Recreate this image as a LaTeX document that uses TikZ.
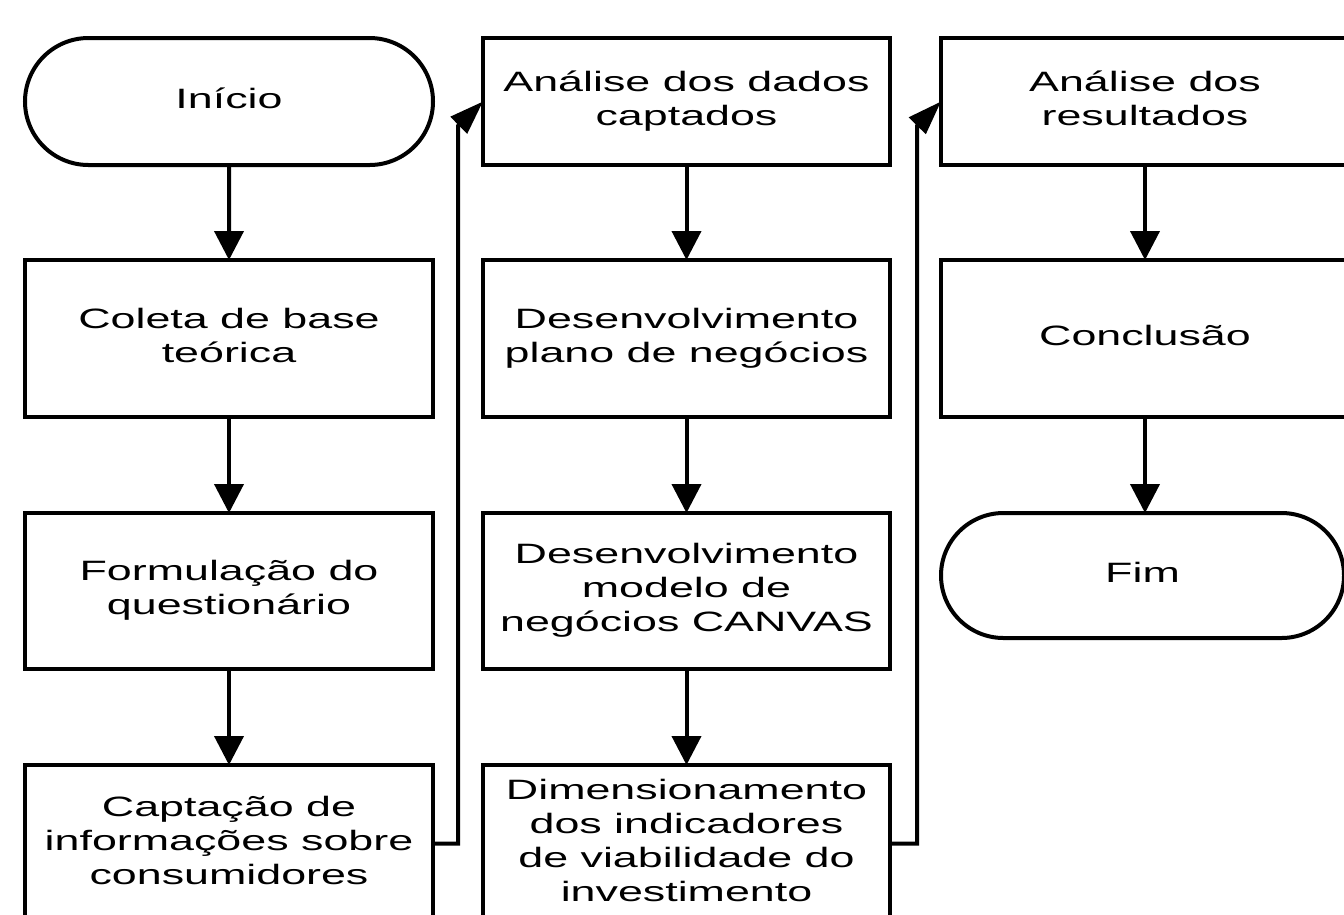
\documentclass[tikz,border=0pt]{standalone}
\usepackage{fontspec}
\setmainfont{Liberation Sans}
\usepackage{graphicx}
\usetikzlibrary{arrows.meta,shapes.misc}
\newcommand{\lbl}[1]{\scalebox{1.6}[1]{\begin{tabular}{@{}c@{}}#1\end{tabular}}}
\tikzset{
  stepbox/.style={draw, line width=4pt, fill=white, minimum width=408pt, minimum height=157pt, inner sep=0pt, outer sep=0pt, font=\fontsize{28}{34}\selectfont},
  termbox/.style={rounded rectangle, draw, line width=4pt, fill=white, minimum width=408pt, minimum height=127pt, inner sep=0pt, outer sep=0pt, font=\fontsize{28}{34}\selectfont},
  flow/.style={line width=4pt, -{Triangle[length=29pt,width=29pt]}},
  loopflow/.style={line width=4pt, -{Triangle[length=34pt,width=23pt]}},
}
\begin{document}
\begin{tikzpicture}[x=1pt,y=-1pt]
\useasboundingbox (0,0) rectangle (1344,914);
\fill[white] (0,0) rectangle (1344,914);
\clip (0,0) rectangle (1344,914);
% column 1
\node[termbox] (ini) at (229,101.5) {\lbl{Início}};
\node[stepbox, minimum height=157pt] (col) at (229,338.5) {\lbl{Coleta de base\\teórica}};
\node[stepbox, minimum height=156pt] (for) at (229,591) {\lbl{Formulação do\\questionário}};
\node[stepbox] (cap) at (229,843.5) {\lbl{Captação de\\informações sobre\\consumidores}};
% column 2
\node[stepbox, minimum width=407pt, minimum height=127pt] (ana) at (686.5,101.5) {\lbl{Análise dos dados\\captados}};
\node[stepbox, minimum width=407pt] (pla) at (686.5,338.5) {\lbl{Desenvolvimento\\plano de negócios}};
\node[stepbox, minimum width=407pt, minimum height=156pt] (can) at (686.5,591) {\lbl{Desenvolvimento\\modelo de\\negócios CANVAS}};
\node[stepbox, minimum width=407pt] (dim) at (686.5,843.5) {\lbl{Dimensionamento\\dos indicadores\\de viabilidade do\\investimento}};
% column 3
\node[stepbox, minimum height=127pt] (res) at (1145,101.5) {\lbl{Análise dos\\resultados}};
\node[stepbox] (con) at (1145,338.5) {\lbl{Conclusão}};
\node[termbox, minimum width=403pt, minimum height=125pt] (fim) at (1142.5,575.5) {\lbl{Fim}};
% arrows
\draw[flow] (ini) -- (col);
\draw[flow] (col) -- (for);
\draw[flow] (for) -- (cap);
\draw[flow] (ana) -- (pla);
\draw[flow] (pla) -- (can);
\draw[flow] (can) -- (dim);
\draw[flow] (res) -- (con);
\draw[flow] (con.south) -- (con.south |- fim.north);
% loop connectors
\coordinate (l1a) at (458,843.5);
\coordinate (l1b) at (458,126);
\coordinate (l2a) at (917,843.5);
\coordinate (l2b) at (917,126);
\draw[loopflow, line join=miter] (cap.east) -- (l1a) -- (l1b) -- (ana.west);
\draw[loopflow, line join=miter] (dim.east) -- (l2a) -- (l2b) -- (res.west);
\end{tikzpicture}
\end{document}
